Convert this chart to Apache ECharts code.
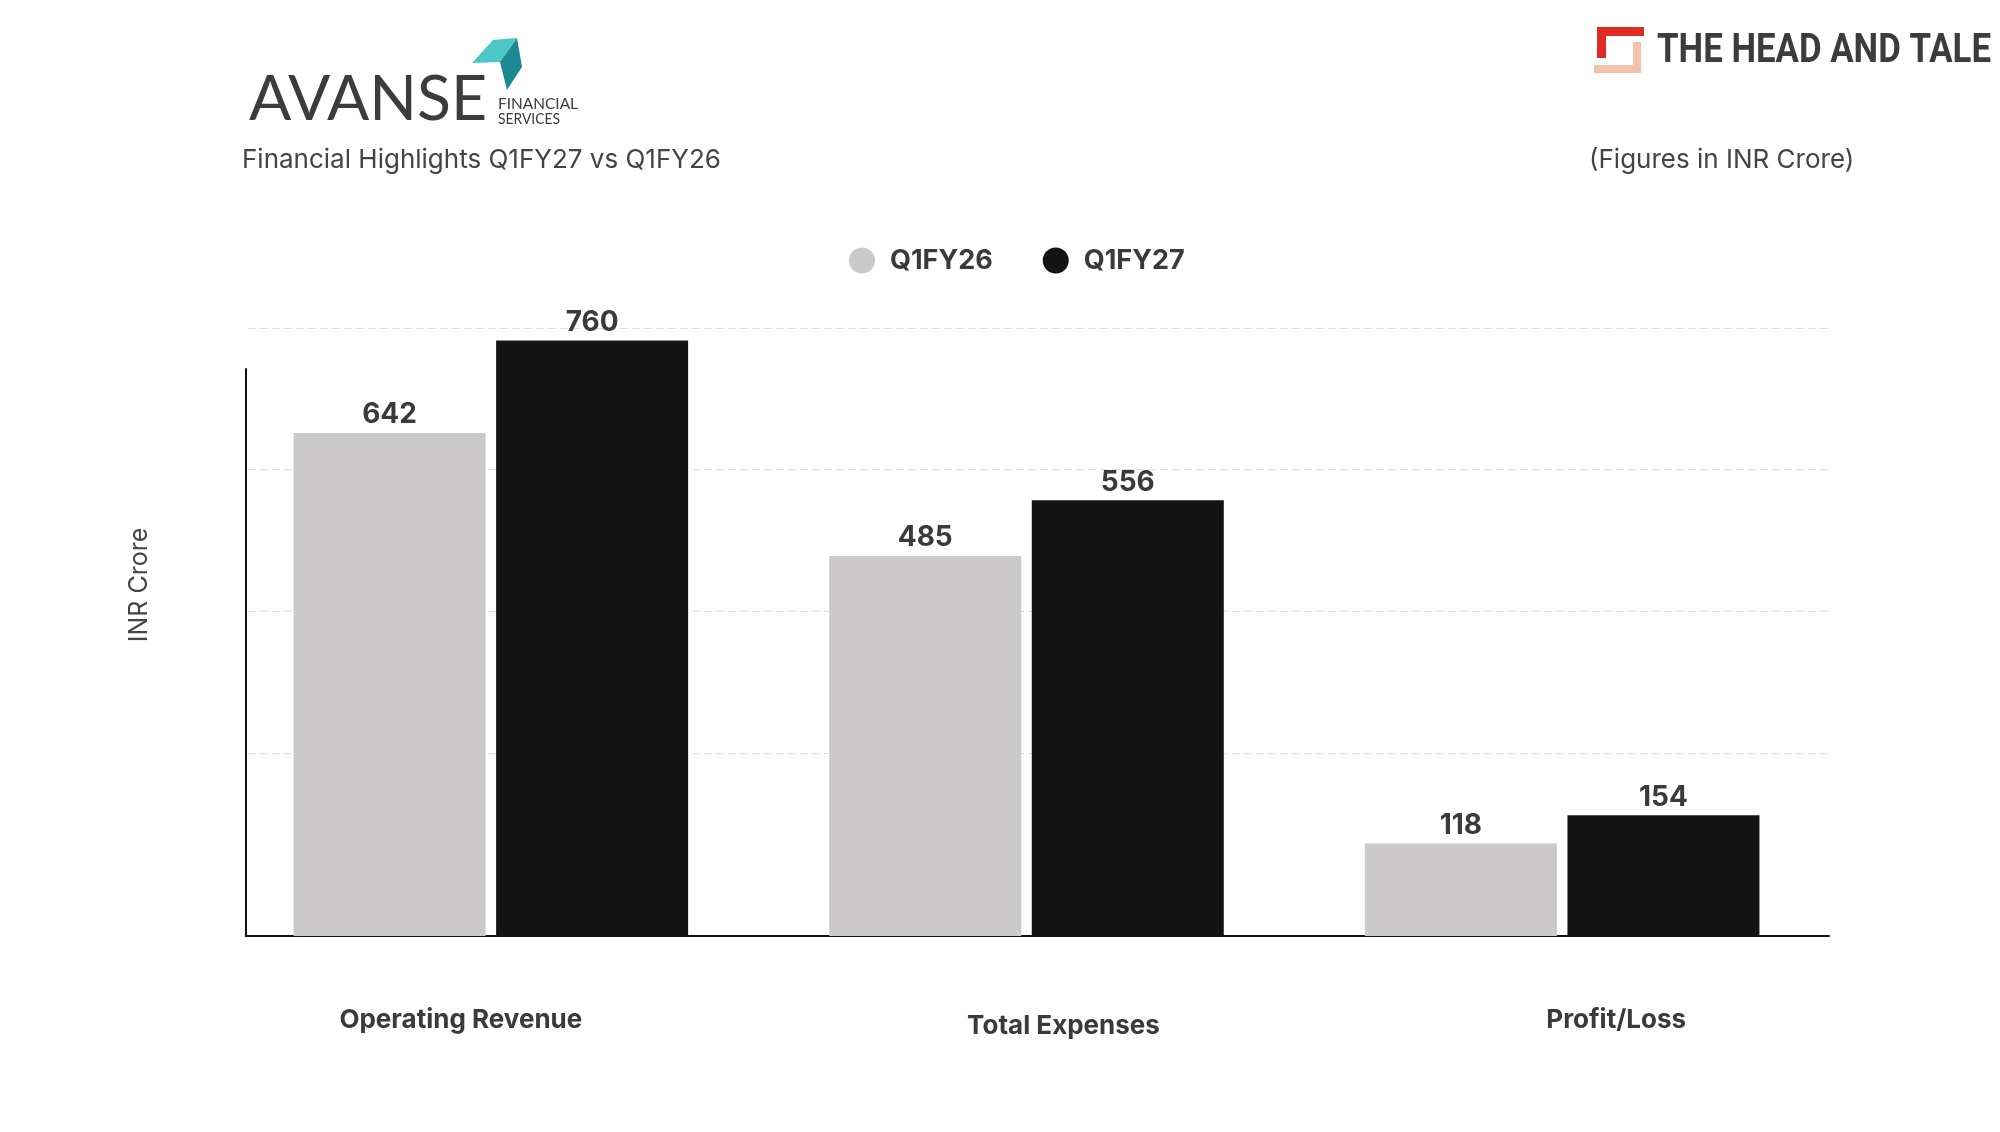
<!DOCTYPE html>
<html>
<head>
<meta charset="utf-8">
<script src="https://cdn.jsdelivr.net/npm/echarts@6/dist/echarts.min.js"></script>
<style>
html, body { margin: 0; padding: 0; background: #fff; }
#main { width: 2000px; height: 1132px; }
</style>
</head>
<body>
<div id="main"></div>
<script>
var categories = ['Operating Revenue', 'Total Expenses', 'Profit/Loss'];
var seriesNames = ['Q1FY26', 'Q1FY27'];
var q1fy26 = [642, 485, 118];
var q1fy27 = [760, 556, 154];
var seriesColors = ['#cbc9ca', '#141414'];

// per-category label shifts (the source puts the labels off-centre)
var labelPad = [[0, 60, 0, 0], [6, 0, 0, 74], [0, 0, 0, 108]];
var labelRich = {};
labelPad.forEach(function (p, i) {
    labelRich['c' + i] = {
        padding: p,
        fontFamily: 'Inter',
        fontWeight: 'bold',
        fontSize: 26,
        color: '#3a3a3a'
    };
});

var textFont = 'Inter';

// squeeze logo words to the width they have in the source
var measureCtx = document.createElement('canvas').getContext('2d');
function fitScale(text, font, width) {
    measureCtx.font = font;
    return width / measureCtx.measureText(text).width;
}

var chart = echarts.init(document.getElementById('main'));

var option = {
    backgroundColor: '#ffffff',
    animation: false,
    title: [{
        text: 'Financial Highlights Q1FY27 vs Q1FY26',
        left: 242,
        top: 147,
        padding: 0,
        textStyle: { fontFamily: textFont, fontWeight: 'normal', fontSize: 26, color: '#444444' }
    }, {
        text: '(Figures in INR Crore)',
        left: 1589,
        top: 147,
        padding: 0,
        textStyle: { fontFamily: textFont, fontWeight: 'normal', fontSize: 26, color: '#444444' }
    }],
    legend: {
        data: seriesNames,
        left: 849,
        top: 247,
        padding: 0,
        icon: 'circle',
        itemWidth: 26,
        itemHeight: 26,
        itemGap: 50,
        textStyle: {
            fontFamily: textFont,
            fontWeight: 'bold',
            fontSize: 27,
            color: '#3a3a3a',
            padding: [0, 0, 0, 10]
        }
    },
    grid: [
        // bars
        { left: 223, right: 170, top: 328, bottom: 196 },
        // dashed guide lines
        { left: 248, right: 171, top: 328, bottom: 379 },
        // axis lines
        { left: 246, right: 171, top: 369, bottom: 196 }
    ],
    xAxis: [{
        gridIndex: 0,
        type: 'category',
        data: categories,
        axisLine: { show: false },
        axisTick: { show: false },
        axisLabel: {
            margin: 71,
            formatter: function (v, i) { return '{c' + i + '|' + v + '}'; },
            rich: labelRich
        }
    }, {
        gridIndex: 1,
        type: 'value',
        show: false
    }, {
        gridIndex: 2,
        type: 'value',
        min: 0,
        max: 1,
        axisLine: { show: true, lineStyle: { color: '#111111', width: 2 } },
        axisTick: { show: false },
        axisLabel: { show: false },
        splitLine: { show: false }
    }],
    yAxis: [{
        gridIndex: 0,
        type: 'value',
        min: 0,
        max: 776,
        axisLine: { show: false },
        axisTick: { show: false },
        axisLabel: { show: false },
        splitLine: { show: false }
    }, {
        gridIndex: 1,
        type: 'value',
        min: 0,
        max: 3,
        interval: 1,
        axisLine: { show: false },
        axisTick: { show: false },
        axisLabel: { show: false },
        splitLine: { show: true, lineStyle: { type: [8, 4], color: '#dedede', width: 1 } }
    }, {
        gridIndex: 2,
        type: 'value',
        min: 0,
        max: 1,
        axisLine: { show: true, lineStyle: { color: '#111111', width: 2 } },
        axisTick: { show: false },
        axisLabel: { show: false },
        splitLine: { show: false }
    }],
    series: [{
        name: seriesNames[0],
        type: 'bar',
        xAxisIndex: 0,
        yAxisIndex: 0,
        barWidth: 192,
        barGap: '5.5%',
        itemStyle: { color: seriesColors[0] },
        label: {
            show: true, position: 'top', distance: 4,
            fontFamily: textFont, fontWeight: 'bold', fontSize: 28, color: '#3a3a3a'
        },
        data: q1fy26
    }, {
        name: seriesNames[1],
        type: 'bar',
        xAxisIndex: 0,
        yAxisIndex: 0,
        barWidth: 192,
        barGap: '5.5%',
        itemStyle: { color: seriesColors[1] },
        label: {
            show: true, position: 'top', distance: 4,
            fontFamily: textFont, fontWeight: 'bold', fontSize: 28, color: '#3a3a3a'
        },
        data: q1fy27
    }],
    graphic: [
        // Avanse logo
        { type: 'polygon', shape: { points: [[472, 63], [493, 40], [517, 38], [500, 62]] }, style: { fill: '#4cc6c6' } },
        { type: 'polygon', shape: { points: [[517, 38], [522, 67], [507, 90], [500, 62]] }, style: { fill: '#1a8a90' } },
        { type: 'text', x: 249, y: 131, scaleX: fitScale('AVANSE', '400 62px Lato', 238),
          style: { text: 'AVANSE', fontFamily: 'Lato', fontWeight: 400, fontSize: 62, fill: '#3c3c3c', verticalAlign: 'bottom' } },
        { type: 'text', x: 498, y: 104, scaleX: fitScale('FINANCIAL', '400 15px Lato', 80),
          style: { text: 'FINANCIAL', fontFamily: 'Lato', fontWeight: 400, fontSize: 15, fill: '#3c3c3c', verticalAlign: 'middle' } },
        { type: 'text', x: 498, y: 119, scaleX: fitScale('SERVICES', '400 15px Lato', 62),
          style: { text: 'SERVICES', fontFamily: 'Lato', fontWeight: 400, fontSize: 15, fill: '#3c3c3c', verticalAlign: 'middle' } },
        // The Head and Tale logo
        { type: 'rect', shape: { x: 1597, y: 27, width: 47, height: 9 }, style: { fill: '#e02a26' } },
        { type: 'rect', shape: { x: 1597, y: 27, width: 9, height: 31 }, style: { fill: '#e02a26' } },
        { type: 'rect', shape: { x: 1594, y: 65, width: 47, height: 8 }, style: { fill: '#f2c3a8' } },
        { type: 'rect', shape: { x: 1633, y: 42, width: 8, height: 31 }, style: { fill: '#f2c3a8' } },
        { type: 'text', x: 1657, y: 52, scaleX: fitScale('THE HEAD AND TALE', 'bold 40px Roboto', 334),
          style: { text: 'THE HEAD AND TALE', fontFamily: 'Roboto', fontWeight: 'bold', fontSize: 40, fill: '#3e3b3b', verticalAlign: 'middle' } },
        // y axis title
        { type: 'text', x: 139, y: 585, rotation: Math.PI / 2,
          style: { text: 'INR Crore', fontFamily: textFont, fontSize: 25, fill: '#444444', align: 'center', verticalAlign: 'middle' } }
    ]
};

chart.setOption(option);
</script>
</body>
</html>
